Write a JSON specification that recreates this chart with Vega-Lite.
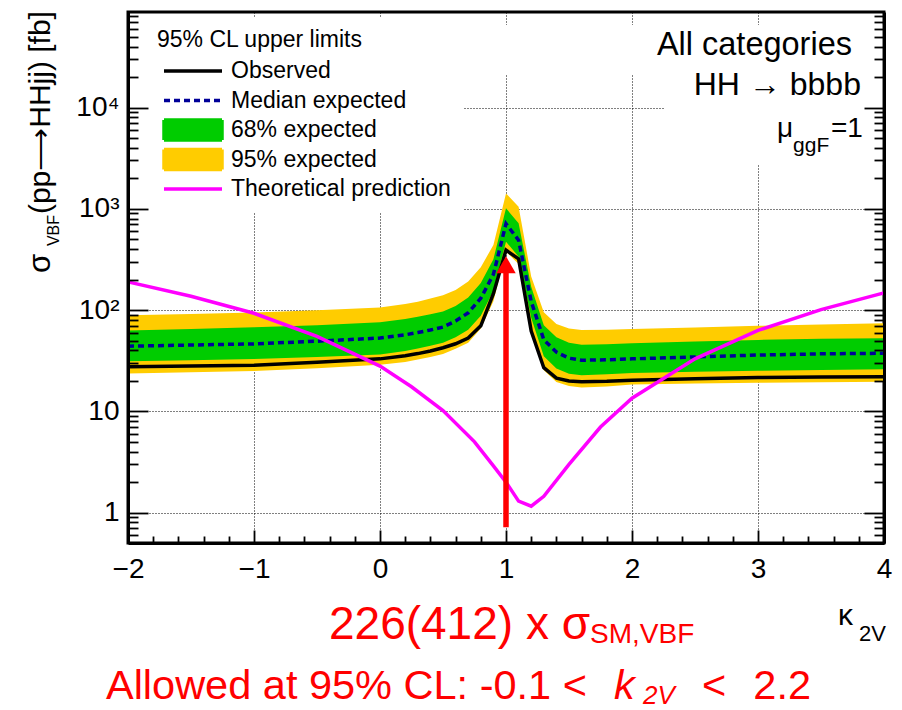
{
"$schema":"https://vega.github.io/schema/vega-lite/v6.json",
"width":756,"height":531,
"autosize":{"type":"none"},
"padding":{"left":128,"top":12,"right":18,"bottom":167},
"background":"white",
"config":{"view":{"stroke":"black","strokeWidth":3},"axis":{"labelFont":"Liberation Sans","labelColor":"black","tickColor":"black","domainColor":"black"},"text":{"font":"Liberation Sans"}},
"datasets":{
"limits":[
{"k":-2,"obs":27.6,"exp":44,"m1":31.3,"m2":23.7,"p1":63,"p2":89},
{"k":-1.5,"obs":28,"exp":45.2,"m1":32,"m2":24.3,"p1":65,"p2":91.5},
{"k":-1,"obs":28.5,"exp":46.4,"m1":32.9,"m2":25,"p1":67.6,"p2":94.5},
{"k":-0.5,"obs":30.5,"exp":49.3,"m1":34.4,"m2":26.6,"p1":71,"p2":99.5},
{"k":0,"obs":33,"exp":53,"m1":36.5,"m2":28.8,"p1":76,"p2":106},
{"k":0.2,"obs":35.5,"exp":57,"m1":39.5,"m2":30.8,"p1":81.5,"p2":115},
{"k":0.3,"obs":37.2,"exp":60,"m1":41.8,"m2":32.5,"p1":86,"p2":121},
{"k":0.4,"obs":39.5,"exp":63.6,"m1":44.5,"m2":34.5,"p1":91,"p2":130},
{"k":0.5,"obs":42.5,"exp":68,"m1":47.5,"m2":36.8,"p1":97,"p2":140},
{"k":0.6,"obs":46.5,"exp":78,"m1":54,"m2":41.5,"p1":110,"p2":158},
{"k":0.7,"obs":53,"exp":94,"m1":64,"m2":47.5,"p1":133,"p2":192},
{"k":0.8,"obs":70,"exp":131,"m1":88,"m2":66,"p1":185,"p2":265},
{"k":0.9,"obs":145,"exp":225,"m1":155,"m2":122,"p1":318,"p2":440},
{"k":1.0,"obs":391,"exp":713,"m1":473,"m2":377,"p1":1010,"p2":1420},
{"k":1.1,"obs":320,"exp":490,"m1":337,"m2":285,"p1":720,"p2":1050},
{"k":1.2,"obs":62,"exp":122,"m1":84,"m2":60,"p1":170,"p2":215},
{"k":1.3,"obs":27,"exp":51,"m1":35,"m2":25.5,"p1":71,"p2":95},
{"k":1.4,"obs":21.3,"exp":38.5,"m1":26.5,"m2":19.5,"p1":54,"p2":73},
{"k":1.5,"obs":20,"exp":33.5,"m1":23.5,"m2":17.8,"p1":47.5,"p2":66},
{"k":1.6,"obs":19.6,"exp":32,"m1":22.8,"m2":17.2,"p1":45.5,"p2":63.5},
{"k":1.8,"obs":19.8,"exp":32.3,"m1":23.2,"m2":17.6,"p1":46,"p2":64},
{"k":2.0,"obs":20.3,"exp":33,"m1":24,"m2":18.4,"p1":47,"p2":65},
{"k":2.5,"obs":21,"exp":34.5,"m1":24.6,"m2":18.8,"p1":49,"p2":67.5},
{"k":3.0,"obs":21.6,"exp":36,"m1":25.2,"m2":19.2,"p1":50.8,"p2":70},
{"k":3.5,"obs":21.8,"exp":37,"m1":25.6,"m2":19.4,"p1":52,"p2":72},
{"k":4.0,"obs":22,"exp":37.5,"m1":26,"m2":19.6,"p1":52.7,"p2":74}
],
"theory":[
{"k":-2,"theory":190},{"k":-1.5,"theory":137},{"k":-1,"theory":93},{"k":-0.5,"theory":55},
{"k":0,"theory":28},{"k":0.25,"theory":17.5},{"k":0.5,"theory":10.2},{"k":0.75,"theory":5},
{"k":0.9,"theory":2.9},{"k":1.0,"theory":2.0},{"k":1.1,"theory":1.3},{"k":1.2,"theory":1.16},
{"k":1.3,"theory":1.45},{"k":1.5,"theory":3.0},{"k":1.75,"theory":7},{"k":2,"theory":13.5},
{"k":2.5,"theory":33},{"k":3,"theory":63},{"k":3.5,"theory":101},{"k":4,"theory":148}
]
},
"resolve":{"axis":{"x":"independent","y":"independent"}},
"layer":[
{"data":{"name":"limits"},
 "mark":{"type":"area","interpolate":"linear"},
 "encoding":{
  "x":{"field":"k","type":"quantitative","scale":{"domain":[-2,4],"nice":false,"zero":false},
       "axis":{"orient":"bottom","values":[-1,0,1,2,3],"grid":true,"gridColor":"black","gridDash":[1,2],"gridWidth":1,"gridOpacity":1,"ticks":false,"labels":false,"domain":false,"title":null,"zindex":0}},
  "y":{"field":"m2","type":"quantitative","scale":{"type":"log","domain":[0.502,87700],"nice":false},
       "axis":{"orient":"left","values":[1,10,100,1000,10000],"grid":true,"gridColor":"black","gridDash":[1,2],"gridWidth":1,"gridOpacity":1,"ticks":false,"labels":false,"domain":false,"title":null,"zindex":0}},
  "y2":{"field":"p2"},
  "color":{"datum":"95% expected","type":"nominal",
    "scale":{"domain":["Observed","Median expected","68% expected","95% expected","Theoretical prediction"],"range":["#000000","#000099","#00CC00","#FFCC00","#FF00FF"]},
    "legend":{"orient":"none","legendX":17,"legendY":5,"direction":"vertical","title":"95% CL upper limits","titleFont":"Liberation Sans","titleFontSize":23,"titleFontWeight":"normal","titleColor":"black","titlePadding":7,"titleAnchor":"start","titleLimit":500,"labelFont":"Liberation Sans","labelFontSize":23,"labelColor":"black","labelLimit":500,"fillColor":"white","padding":12,"symbolSize":400,"symbolOffset":24,"labelOffset":26,"rowPadding":-4.5,"gridAlign":"all","symbolStrokeWidth":3.5,
      "encode":{"symbols":{"update":{
        "shape":{"signal":"(datum.value === '68% expected' || datum.value === '95% expected') ? 'M-2.9,-1H2.9V1H-2.9Z' : 'M-2.9,0H2.9'"},
        "fill":{"signal":"(datum.value === '68% expected' || datum.value === '95% expected') ? scale('color', datum.value) : 'transparent'"},
        "stroke":{"signal":"(datum.value === '68% expected' || datum.value === '95% expected') ? 'transparent' : scale('color', datum.value)"},
        "strokeWidth":{"value":3.5},
        "strokeDash":{"signal":"datum.value === 'Median expected' ? [6,4] : [1,0]"},
        "opacity":{"value":1},"fillOpacity":{"value":1},"strokeOpacity":{"value":1}}}}}}
 }},
{"data":{"name":"limits"},
 "mark":{"type":"area","interpolate":"linear"},
 "encoding":{
  "x":{"field":"k","type":"quantitative","scale":{"domain":[-2,4],"nice":false,"zero":false},
       "axis":{"orient":"bottom","values":[-2,-1,0,1,2,3,4],"format":"d","grid":false,"ticks":false,"tickSize":0,"labels":true,"labelPadding":12,"labelFlush":false,"labelOverlap":false,"labelFontSize":28,"labelFont":"Liberation Sans","labelColor":"black","domain":true,"domainWidth":3,"domainColor":"black","title":null,"zindex":1}},
  "y":{"field":"m1","type":"quantitative","scale":{"type":"log","domain":[0.502,87700],"nice":false},
       "axis":{"orient":"left","values":[1,10,100,1000,10000],"labelExpr":"datum.value == 1 ? '1' : datum.value == 10 ? '10' : datum.value == 100 ? '10²' : datum.value == 1000 ? '10³' : '10⁴'","grid":false,"ticks":false,"tickSize":0,"labels":true,"labelPadding":9,"labelFlush":false,"labelOverlap":false,"labelFontSize":28,"labelFont":"Liberation Sans","labelColor":"black","domain":true,"domainWidth":3,"domainColor":"black","title":null,"zindex":1}},
  "y2":{"field":"p1"},
  "color":{"datum":"68% expected","type":"nominal"}
 }},
{"data":{"name":"limits"},
 "mark":{"type":"line","strokeWidth":3.5,"strokeDash":[6,4],"interpolate":"linear"},
 "encoding":{
  "x":{"field":"k","type":"quantitative","scale":{"domain":[-2,4],"nice":false,"zero":false},
       "axis":{"orient":"top","offset":-531,"values":[-2,-1,0,1,2,3,4],"grid":false,"ticks":true,"tickSize":13,"tickWidth":1.8,"tickColor":"black","labels":false,"domain":false,"title":null,"zindex":1}},
  "y":{"field":"exp","type":"quantitative","scale":{"type":"log","domain":[0.502,87700],"nice":false},
       "axis":{"orient":"right","offset":-756,"values":[1,10,100,1000,10000],"grid":false,"ticks":true,"tickSize":20,"tickWidth":1.8,"tickColor":"black","labels":false,"domain":false,"title":null,"zindex":1}},
  "color":{"datum":"Median expected","type":"nominal"}
 }},
{"data":{"name":"limits"},
 "mark":{"type":"line","strokeWidth":3.5,"interpolate":"linear"},
 "encoding":{
  "x":{"field":"k","type":"quantitative","scale":{"domain":[-2,4],"nice":false,"zero":false},
       "axis":{"orient":"top","offset":-531,"values":[-1.8,-1.6,-1.4,-1.2,-0.8,-0.6,-0.4,-0.2,0.2,0.4,0.6,0.8,1.2,1.4,1.6,1.8,2.2,2.4,2.6,2.8,3.2,3.4,3.6,3.8],"grid":false,"ticks":true,"tickSize":7,"tickWidth":1.8,"tickColor":"black","labels":false,"domain":false,"title":null,"zindex":1}},
  "y":{"field":"obs","type":"quantitative","scale":{"type":"log","domain":[0.502,87700],"nice":false},
       "axis":{"orient":"right","offset":-756,"values":[0.6,0.7,0.8,0.9,2,3,4,5,6,7,8,9,20,30,40,50,60,70,80,90,200,300,400,500,600,700,800,900,2000,3000,4000,5000,6000,7000,8000,9000,20000,30000,40000,50000,60000,70000,80000],"grid":false,"ticks":true,"tickSize":10,"tickWidth":1.8,"tickColor":"black","labels":false,"domain":false,"title":null,"zindex":1}},
  "color":{"datum":"Observed","type":"nominal"}
 }},
{"data":{"name":"theory"},
 "mark":{"type":"line","strokeWidth":3.5,"interpolate":"linear"},
 "encoding":{
  "x":{"field":"k","type":"quantitative","scale":{"domain":[-2,4],"nice":false,"zero":false},"axis":null},
  "y":{"field":"theory","type":"quantitative","scale":{"type":"log","domain":[0.502,87700],"nice":false},
       "axis":{"orient":"left","offset":-756,"values":[1,10,100,1000,10000],"grid":false,"ticks":true,"tickSize":20,"tickWidth":1.8,"tickColor":"black","labels":false,"domain":true,"domainWidth":3,"domainColor":"black","title":null,"zindex":1}},
  "color":{"datum":"Theoretical prediction","type":"nominal"}
 }},
{"data":{"name":"theory"},
 "mark":{"type":"point","opacity":0},
 "encoding":{
  "x":{"field":"k","type":"quantitative","scale":{"domain":[-2,4],"nice":false,"zero":false},"axis":null},
  "y":{"field":"theory","type":"quantitative","scale":{"type":"log","domain":[0.502,87700],"nice":false},
       "axis":{"orient":"left","offset":-756,"values":[0.6,0.7,0.8,0.9,2,3,4,5,6,7,8,9,20,30,40,50,60,70,80,90,200,300,400,500,600,700,800,900,2000,3000,4000,5000,6000,7000,8000,9000,20000,30000,40000,50000,60000,70000,80000],"grid":false,"ticks":true,"tickSize":10,"tickWidth":1.8,"tickColor":"black","labels":false,"domain":false,"title":null,"zindex":1}}
 }},
{"data":{"values":[{"label":"box"}]},
 "mark":{"type":"rect","color":"white"},
 "encoding":{
  "x":{"datum":0.78,"type":"quantitative","scale":{"domain":[-2,4],"nice":false,"zero":false},"axis":null},
  "x2":{"datum":3.985},
  "y":{"datum":20900,"type":"quantitative","scale":{"type":"log","domain":[0.502,87700],"nice":false},"axis":null},
  "y2":{"datum":65300}}},
{"data":{"values":[{"label":"box"}]},
 "mark":{"type":"rect","color":"white"},
 "encoding":{
  "x":{"datum":2.254,"type":"quantitative","scale":{"domain":[-2,4],"nice":false,"zero":false},"axis":null},
  "x2":{"datum":3.985},
  "y":{"datum":2700,"type":"quantitative","scale":{"type":"log","domain":[0.502,87700],"nice":false},"axis":null},
  "y2":{"datum":20900}}},
{"data":{"values":[{"label":"arrow"}]},
 "mark":{"type":"rule","color":"#FF0000","strokeWidth":5.5},
 "encoding":{
  "x":{"datum":1,"type":"quantitative","scale":{"domain":[-2,4],"nice":false,"zero":false},"axis":null},
  "y":{"datum":0.72,"type":"quantitative","scale":{"type":"log","domain":[0.502,87700],"nice":false},"axis":null},
  "y2":{"datum":260}}},
{"data":{"values":[{"label":"arrow"}]},
 "mark":{"type":"point","shape":"triangle-up","filled":true,"color":"#FF0000","size":380,"opacity":1},
 "encoding":{
  "x":{"datum":1,"type":"quantitative","scale":{"domain":[-2,4],"nice":false,"zero":false},"axis":null},
  "y":{"datum":280,"type":"quantitative","scale":{"type":"log","domain":[0.502,87700],"nice":false},"axis":null}}},
{"data":{"values":[{"label":"All categories"}]},
 "mark":{"type":"text","font":"Liberation Sans","fontSize":32.5,"align":"right","baseline":"alphabetic","color":"black"},
 "encoding":{
  "x":{"datum":3.746,"type":"quantitative","scale":{"domain":[-2,4],"nice":false,"zero":false},"axis":null},
  "y":{"datum":32960,"type":"quantitative","scale":{"type":"log","domain":[0.502,87700],"nice":false},"axis":null},
  "text":{"field":"label"}}},
{"data":{"values":[{"label":"HH → bbbb"}]},
 "mark":{"type":"text","font":"Liberation Sans","fontSize":32,"align":"right","baseline":"alphabetic","color":"black"},
 "encoding":{
  "x":{"datum":3.817,"type":"quantitative","scale":{"domain":[-2,4],"nice":false,"zero":false},"axis":null},
  "y":{"datum":13440,"type":"quantitative","scale":{"type":"log","domain":[0.502,87700],"nice":false},"axis":null},
  "text":{"field":"label"}}},
{"data":{"values":[{"label":"μ"}]},
 "mark":{"type":"text","font":"Liberation Sans","fontSize":28,"align":"left","baseline":"alphabetic","color":"black"},
 "encoding":{
  "x":{"datum":3.151,"type":"quantitative","scale":{"domain":[-2,4],"nice":false,"zero":false},"axis":null},
  "y":{"datum":5113,"type":"quantitative","scale":{"type":"log","domain":[0.502,87700],"nice":false},"axis":null},
  "text":{"field":"label"}}},
{"data":{"values":[{"label":"ggF"}]},
 "mark":{"type":"text","font":"Liberation Sans","fontSize":21,"align":"left","baseline":"alphabetic","color":"black"},
 "encoding":{
  "x":{"datum":3.278,"type":"quantitative","scale":{"domain":[-2,4],"nice":false,"zero":false},"axis":null},
  "y":{"datum":3634,"type":"quantitative","scale":{"type":"log","domain":[0.502,87700],"nice":false},"axis":null},
  "text":{"field":"label"}}},
{"data":{"values":[{"label":"=1"}]},
 "mark":{"type":"text","font":"Liberation Sans","fontSize":28,"align":"right","baseline":"alphabetic","color":"black"},
 "encoding":{
  "x":{"datum":3.833,"type":"quantitative","scale":{"domain":[-2,4],"nice":false,"zero":false},"axis":null},
  "y":{"datum":5113,"type":"quantitative","scale":{"type":"log","domain":[0.502,87700],"nice":false},"axis":null},
  "text":{"field":"label"}}},
{"data":{"values":[{"label":"σ"}]},
 "mark":{"type":"text","font":"Liberation Sans","fontSize":31,"align":"left","baseline":"alphabetic","angle":-90,"color":"black"},
 "encoding":{
  "x":{"datum":-2.619,"type":"quantitative","scale":{"domain":[-2,4],"nice":false,"zero":false},"axis":null},
  "y":{"datum":232,"type":"quantitative","scale":{"type":"log","domain":[0.502,87700],"nice":false},"axis":null},
  "text":{"field":"label"}}},
{"data":{"values":[{"label":"VBF"}]},
 "mark":{"type":"text","font":"Liberation Sans","fontSize":16,"align":"left","baseline":"alphabetic","angle":-90,"color":"black"},
 "encoding":{
  "x":{"datum":-2.5476,"type":"quantitative","scale":{"domain":[-2,4],"nice":false,"zero":false},"axis":null},
  "y":{"datum":428.6,"type":"quantitative","scale":{"type":"log","domain":[0.502,87700],"nice":false},"axis":null},
  "text":{"field":"label"}}},
{"data":{"values":[{"label":"(pp⟶HHjj) [fb]"}]},
 "mark":{"type":"text","font":"Liberation Sans","fontSize":30,"align":"left","baseline":"alphabetic","angle":-90,"color":"black"},
 "encoding":{
  "x":{"datum":-2.619,"type":"quantitative","scale":{"domain":[-2,4],"nice":false,"zero":false},"axis":null},
  "y":{"datum":887,"type":"quantitative","scale":{"type":"log","domain":[0.502,87700],"nice":false},"axis":null},
  "text":{"field":"label"}}},
{"data":{"values":[{"label":"κ"}]},
 "mark":{"type":"text","font":"Liberation Sans","fontSize":30,"align":"left","baseline":"alphabetic","color":"black"},
 "encoding":{
  "x":{"datum":3.635,"type":"quantitative","scale":{"domain":[-2,4],"nice":false,"zero":false},"axis":null},
  "y":{"datum":0.0775,"type":"quantitative","scale":{"type":"log","domain":[0.502,87700],"nice":false},"axis":null},
  "text":{"field":"label"}}},
{"data":{"values":[{"label":"2V"}]},
 "mark":{"type":"text","font":"Liberation Sans","fontSize":22,"align":"left","baseline":"alphabetic","color":"black"},
 "encoding":{
  "x":{"datum":3.802,"type":"quantitative","scale":{"domain":[-2,4],"nice":false,"zero":false},"axis":null},
  "y":{"datum":0.05387,"type":"quantitative","scale":{"type":"log","domain":[0.502,87700],"nice":false},"axis":null},
  "text":{"field":"label"}}},
{"data":{"values":[{"label":"226(412) x σ"}]},
 "mark":{"type":"text","font":"Liberation Sans","fontSize":46,"align":"left","baseline":"alphabetic","color":"#FF0000"},
 "encoding":{
  "x":{"datum":-0.405,"type":"quantitative","scale":{"domain":[-2,4],"nice":false,"zero":false},"axis":null},
  "y":{"datum":0.05636,"type":"quantitative","scale":{"type":"log","domain":[0.502,87700],"nice":false},"axis":null},
  "text":{"field":"label"}}},
{"data":{"values":[{"label":"SM,VBF"}]},
 "mark":{"type":"text","font":"Liberation Sans","fontSize":28,"align":"left","baseline":"alphabetic","color":"#FF0000"},
 "encoding":{
  "x":{"datum":1.667,"type":"quantitative","scale":{"domain":[-2,4],"nice":false,"zero":false},"axis":null},
  "y":{"datum":0.05145,"type":"quantitative","scale":{"type":"log","domain":[0.502,87700],"nice":false},"axis":null},
  "text":{"field":"label"}}},
{"data":{"values":[{"label":"Allowed at 95% CL: -0.1 <"}]},
 "mark":{"type":"text","font":"Liberation Sans","fontSize":41.5,"align":"left","baseline":"alphabetic","color":"#FF0000"},
 "encoding":{
  "x":{"datum":-2.175,"type":"quantitative","scale":{"domain":[-2,4],"nice":false,"zero":false},"axis":null},
  "y":{"datum":0.0144,"type":"quantitative","scale":{"type":"log","domain":[0.502,87700],"nice":false},"axis":null},
  "text":{"field":"label"}}},
{"data":{"values":[{"label":"k"}]},
 "mark":{"type":"text","font":"Liberation Sans","fontSize":41.5,"fontStyle":"italic","align":"left","baseline":"alphabetic","color":"#FF0000"},
 "encoding":{
  "x":{"datum":1.857,"type":"quantitative","scale":{"domain":[-2,4],"nice":false,"zero":false},"axis":null},
  "y":{"datum":0.0144,"type":"quantitative","scale":{"type":"log","domain":[0.502,87700],"nice":false},"axis":null},
  "text":{"field":"label"}}},
{"data":{"values":[{"label":"2V"}]},
 "mark":{"type":"text","font":"Liberation Sans","fontSize":26,"fontStyle":"italic","align":"left","baseline":"alphabetic","color":"#FF0000"},
 "encoding":{
  "x":{"datum":2.087,"type":"quantitative","scale":{"domain":[-2,4],"nice":false,"zero":false},"axis":null},
  "y":{"datum":0.01285,"type":"quantitative","scale":{"type":"log","domain":[0.502,87700],"nice":false},"axis":null},
  "text":{"field":"label"}}},
{"data":{"values":[{"label":"<"}]},
 "mark":{"type":"text","font":"Liberation Sans","fontSize":41.5,"align":"left","baseline":"alphabetic","color":"#FF0000"},
 "encoding":{
  "x":{"datum":2.556,"type":"quantitative","scale":{"domain":[-2,4],"nice":false,"zero":false},"axis":null},
  "y":{"datum":0.0144,"type":"quantitative","scale":{"type":"log","domain":[0.502,87700],"nice":false},"axis":null},
  "text":{"field":"label"}}},
{"data":{"values":[{"label":"2.2"}]},
 "mark":{"type":"text","font":"Liberation Sans","fontSize":41.5,"align":"right","baseline":"alphabetic","color":"#FF0000"},
 "encoding":{
  "x":{"datum":3.421,"type":"quantitative","scale":{"domain":[-2,4],"nice":false,"zero":false},"axis":null},
  "y":{"datum":0.0144,"type":"quantitative","scale":{"type":"log","domain":[0.502,87700],"nice":false},"axis":null},
  "text":{"field":"label"}}}
]
}
